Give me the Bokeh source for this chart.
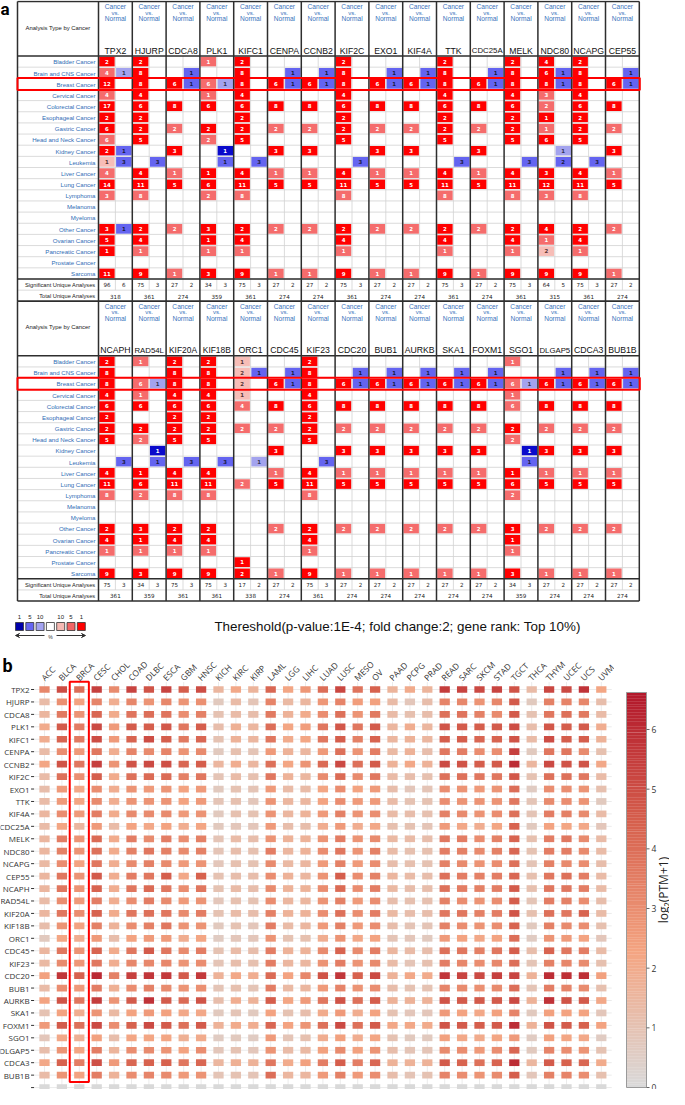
import math
from bokeh.plotting import figure
from bokeh.models import Range1d, Arrow, VeeHead
from bokeh.layouts import column, row
from bokeh.embed import file_html
from bokeh.resources import INLINE
from bokeh.core.properties import value

# ------------------------------------------------------------------ panel a data
ONC_CANCERS = ["Bladder Cancer", "Brain and CNS Cancer", "Breast Cancer", "Cervical Cancer",
               "Colorectal Cancer", "Esophageal Cancer", "Gastric Cancer", "Head and Neck Cancer",
               "Kidney Cancer", "Leukemia", "Liver Cancer", "Lung Cancer", "Lymphoma", "Melanoma",
               "Myeloma", "Other Cancer", "Ovarian Cancer", "Pancreatic Cancer", "Prostate Cancer",
               "Sarcoma"]

GENES_A1 = ["TPX2", "HJURP", "CDCA8", "PLK1", "KIFC1", "CENPA", "CCNB2", "KIF2C",
            "EXO1", "KIF4A", "TTK", "CDC25A", "MELK", "NDC80", "NCAPG", "CEP55"]
GENES_A2 = ["NCAPH", "RAD54L", "KIF20A", "KIF18B", "ORC1", "CDC45", "KIF23", "CDC20",
            "BUB1", "AURKB", "SKA1", "FOXM1", "SGO1", "DLGAP5", "CDCA3", "BUB1B"]

# count + rank class (a: top 1%, b: top 5%, c: top 10%), "." = no analysis; (up, down)
TPX2 = ("2a 4b 12a 4b 17a 2a 6a 6b 2a 1c 4b 14a 3b . . 3a 5a 1a . 11a",
        ". 1c . . . . . . 1b 3b . . . . . 1b . . . .")
HJURP = ("2a 8a 8a 4a 6a 2a 2a 5a . . 4a 11a 8b . . 2a 4a 1b . 9a",
         ". . . . . . . . . 3b . . . . . . . . . .")
CDCA8 = (". . 6a . 8a . 2b . 3a . 1b 5a . . . 2b . . . 1b",
         ". 1b 1b . . . . . . . . . . . . . . . . .")
PLK1 = ("1b . 6b 1b 6a . 2a 2b . . 1a 6a 2b . . 3a 1a 1b . 3a",
        ". . 1c . . . . . 1a 1b . . . . . . . . . .")
KIFC1 = ("2a 8a 8a 4a 6a 2a 2a 5a . . 4a 11a 8b . . 2a 4a 1b . 9a",
         ". . . . . . . . . 3b . . . . . . . . . .")
CENPA = (". . 6a . 8a . 2b . 3a . 1b 5a . . . 2b . . . 1b",
         ". 1b 1b . . . . . . . . . . . . . . . . .")
CCNB2 = (". . 6a . 8a . 2b . 3a . 1b 5a . . . 2b . . . 1b",
         ". 1b 1b . . . . . . . . . . . . . . . . .")
KIF2C = ("2a 8a 8a 4a 6a 2a 2a 5a . . 4a 11a 8b . . 2a 4a 1b . 9a",
         ". . . . . . . . . 3b . . . . . . . . . .")
EXO1 = (". . 6a . 8a . 2b . 3a . 1b 5a . . . 2b . . . 1b",
        ". 1b 1b . . . . . . . . . . . . . . . . .")
KIF4A = (". . 6a . 8a . 2b . 3a . 1b 5a . . . 2b . . . 1b",
         ". 1b 1b . . . . . . . . . . . . . . . . .")
TTK = ("2a 8a 8a 4a 6a 2a 2a 5a . . 4a 11a 8b . . 2a 4a 1b . 9a",
       ". . . . . . . . . 3b . . . . . . . . . .")
CDC25A = (". . 6a . 8a . 2b . 3a . 1b 5a . . . 2b . . . 1b",
          ". 1b 1b . . . . . . . . . . . . . . . . .")
MELK = ("2a 8a 8a 4a 6a 2a 2a 5a . . 4a 11a 8b . . 2a 4a 1b . 9a",
        ". . . . . . . . . 3b . . . . . . . . . .")
NDC80 = ("4a 6a 8a 3b 2b 1a 1b 6a . . 3a 12a 3b . . 4a 1b 2c . 9a",
         ". 1b 1b . . . . . 1c 2b . . . . . . . . . .")
NCAPG = ("2a 8a 8a 4a 6a 2a 2a 5a . . 4a 11a 8b . . 2a 4a 1b . 9a",
         ". . . . . . . . . 3b . . . . . . . . . .")
CEP55 = (". . 6a . 8a . 2b . 3a . 1b 5a . . . 2b . . . 1b",
         ". 1b 1b . . . . . . . . . . . . . . . . .")
NCAPH = ("2a 8a 8a 4a 6a 2a 2a 5a . . 4a 11a 8b . . 2a 4a 1b . 9a",
         ". . . . . . . . . 3b . . . . . . . . . .")
RAD54L = ("1b . 6b 1b 6a . 2a 2b . . 1a 6a 2b . . 3a 1a 1b . 3a",
          ". . 1c . . . . . 1a 1b . . . . . . . . . .")
KIF20A = ("2a 8a 8a 4a 6a 2a 2a 5a . . 4a 11a 8b . . 2a 4a 1b . 9a",
          ". . . . . . . . . 3b . . . . . . . . . .")
KIF18B = ("2a 8a 8a 4a 6a 2a 2a 5a . . 4a 11a 8b . . 2a 4a 1b . 9a",
          ". . . . . . . . . 3b . . . . . . . . . .")
ORC1 = ("1c 2c 2c 1c 4b . 2b . . . . 2b . . . . . . 1a 2a",
        ". 1b . . . . . . . 1c . . . . . . . . . .")
CDC45 = (". . 6a . 8a . 2b . 3a . 1b 5a . . . 2b . . . 1b",
         ". 1b 1b . . . . . . . . . . . . . . . . .")
KIF23 = ("2a 8a 8a 4a 6a 2a 2a 5a . . 4a 11a 8b . . 2a 4a 1b . 9a",
         ". . . . . . . . . 3b . . . . . . . . . .")
CDC20 = (". . 6a . 8a . 2b . 3a . 1b 5a . . . 2b . . . 1b",
         ". 1b 1b . . . . . . . . . . . . . . . . .")
BUB1 = (". . 6a . 8a . 2b . 3a . 1b 5a . . . 2b . . . 1b",
        ". 1b 1b . . . . . . . . . . . . . . . . .")
AURKB = (". . 6a . 8a . 2b . 3a . 1b 5a . . . 2b . . . 1b",
         ". 1b 1b . . . . . . . . . . . . . . . . .")
SKA1 = (". . 6a . 8a . 2b . 3a . 1b 5a . . . 2b . . . 1b",
        ". 1b 1b . . . . . . . . . . . . . . . . .")
FOXM1 = (". . 6a . 8a . 2b . 3a . 1b 5a . . . 2b . . . 1b",
         ". 1b 1b . . . . . . . . . . . . . . . . .")
SGO1 = ("1b . 6b 1b 6b . 2a 2b . . 1a 6a 2b . . 3a 1a 1b . 3a",
        ". . 1c . . . . . 1a 1b . . . . . . . . . .")
DLGAP5 = (". . 6a . 8a . 2b . 3a . 1b 5a . . . 2b . . . 1b",
          ". 1b 1b . . . . . . . . . . . . . . . . .")
CDCA3 = (". . 6a . 8a . 2b . 3a . 1b 5a . . . 2b . . . 1b",
         ". 1b 1b . . . . . . . . . . . . . . . . .")
BUB1B = (". . 6a . 8a . 2b . 3a . 1b 5a . . . 2b . . . 1b",
         ". 1b 1b . . . . . . . . . . . . . . . . .")

SIG_UP_A1 = [96, 75, 27, 34, 75, 27, 27, 75, 27, 27, 75, 27, 75, 64, 75, 27]
SIG_DN_A1 = [6, 3, 2, 3, 3, 2, 2, 3, 2, 2, 3, 2, 3, 5, 3, 2]
TOTAL_A1 = [318, 361, 274, 359, 361, 274, 274, 361, 274, 274, 361, 274, 361, 315, 361, 274]
SIG_UP_A2 = [75, 34, 75, 75, 17, 27, 75, 27, 27, 27, 27, 27, 34, 27, 27, 27]
SIG_DN_A2 = [3, 3, 3, 3, 2, 2, 3, 2, 2, 2, 2, 2, 3, 2, 2, 2]
TOTAL_A2 = [361, 359, 361, 361, 338, 274, 361, 274, 274, 274, 274, 274, 359, 274, 274, 274]

LEGEND_LABELS = ["1", "5", "10", "", "10", "5", "1"]
THRESHOLD_TEXT = "Thereshold(p-value:1E-4; fold change:2; gene rank: Top 10%)"

# ------------------------------------------------------------------ panel b data
TCGA = ["ACC", "BLCA", "BRCA", "CESC", "CHOL", "COAD", "DLBC", "ESCA", "GBM", "HNSC", "KICH",
        "KIRC", "KIRP", "LAML", "LGG", "LIHC", "LUAD", "LUSC", "MESO", "OV", "PAAD", "PCPG",
        "PRAD", "READ", "SARC", "SKCM", "STAD", "TGCT", "THCA", "THYM", "UCEC", "UCS", "UVM"]
HM_GENES = ["TPX2", "HJURP", "CDCA8", "PLK1", "KIFC1", "CENPA", "CCNB2", "KIF2C", "EXO1", "TTK",
            "KIF4A", "CDC25A", "MELK", "NDC80", "NCAPG", "CEP55", "NCAPH", "RAD54L", "KIF20A",
            "KIF18B", "ORC1", "CDC45", "KIF23", "CDC20", "BUB1", "AURKB", "SKA1", "FOXM1", "SGO1",
            "DLGAP5", "CDCA3", "BUB1B", ""]

HM_TPX2 = [3.2, 5.0, 4.0, 5.4, 3.1, 5.3, 4.8, 5.3, 4.5, 5.0, 1.5, 2.1, 1.6, 4.2, 2.2, 2.7, 4.0, 5.2, 3.8, 4.4, 1.6, 2.0, 1.6, 5.5, 5.3, 5.1, 5.3, 4.8, 1.3, 5.2, 5.1, 5.8, 2.2]
HM_HJURP = [1.3, 2.9, 2.3, 3.3, 1.9, 3.2, 2.8, 3.2, 2.8, 2.9, 0.7, 1.3, 0.9, 3.3, 1.4, 1.5, 2.7, 3.3, 2.5, 2.4, 1.3, 0.8, 1.2, 3.3, 3.2, 2.8, 3.2, 4.6, 0.7, 3.4, 3.3, 3.2, 1.2]
HM_CDCA8 = [1.5, 3.6, 2.8, 4.2, 2.0, 3.8, 4.0, 3.8, 3.0, 3.4, 1.0, 1.3, 1.2, 3.6, 1.7, 2.0, 3.0, 3.9, 2.8, 3.6, 1.3, 1.1, 1.2, 3.9, 3.8, 3.4, 3.1, 4.6, 1.0, 3.7, 3.9, 3.6, 1.3]
HM_PLK1 = [2.0, 4.6, 3.5, 5.1, 2.6, 4.6, 4.5, 4.7, 3.7, 4.5, 1.2, 1.8, 1.5, 4.0, 2.2, 2.5, 3.7, 4.7, 3.7, 4.6, 1.5, 1.9, 1.5, 4.8, 4.6, 4.5, 4.6, 5.0, 1.2, 4.7, 4.5, 4.6, 1.9]
HM_KIFC1 = [1.9, 4.3, 3.6, 5.0, 2.6, 4.3, 5.0, 4.5, 3.6, 4.2, 1.0, 1.7, 1.5, 3.7, 2.0, 2.2, 3.7, 4.5, 3.4, 4.3, 1.5, 1.7, 1.5, 4.5, 4.5, 4.2, 4.3, 4.8, 1.3, 5.0, 4.5, 4.5, 1.7]
HM_CENPA = [1.3, 3.0, 2.6, 3.7, 1.9, 3.3, 3.1, 3.3, 2.8, 3.1, 0.7, 1.1, 0.9, 2.6, 1.7, 1.5, 2.6, 3.9, 2.8, 3.5, 1.4, 1.7, 1.2, 3.7, 3.5, 3.0, 3.0, 5.4, 0.7, 3.7, 3.7, 3.1, 1.1]
HM_CCNB2 = [2.2, 4.8, 3.7, 5.4, 2.8, 4.8, 5.1, 4.9, 4.2, 4.5, 1.5, 1.9, 1.5, 3.9, 2.2, 2.8, 4.1, 5.1, 3.9, 4.6, 1.7, 2.1, 1.7, 5.1, 4.8, 4.5, 4.6, 6.0, 1.5, 5.1, 4.8, 4.8, 2.1]
HM_KIF2C = [1.3, 3.9, 2.9, 4.5, 2.0, 3.9, 4.1, 4.1, 3.4, 3.7, 0.9, 1.3, 1.1, 3.7, 1.7, 1.5, 3.1, 4.1, 3.1, 3.7, 1.3, 1.2, 1.1, 3.9, 3.9, 3.7, 3.7, 4.7, 1.0, 3.9, 3.9, 3.7, 1.3]
HM_EXO1 = [1.2, 2.6, 2.1, 3.0, 1.9, 2.8, 2.6, 2.8, 2.3, 2.6, 0.7, 1.0, 0.9, 2.6, 1.3, 1.3, 2.2, 3.0, 2.3, 2.6, 1.2, 0.8, 0.9, 3.0, 2.8, 2.6, 2.8, 4.0, 0.6, 3.0, 3.0, 2.8, 1.1]
HM_TTK = [1.3, 2.6, 2.2, 3.1, 1.9, 2.8, 2.8, 2.8, 2.3, 2.6, 0.9, 1.1, 0.8, 2.8, 1.5, 1.5, 2.3, 3.0, 2.6, 2.6, 1.3, 1.0, 1.0, 3.0, 2.8, 2.8, 2.8, 3.7, 0.9, 3.1, 3.0, 2.8, 0.7]
HM_KIF4A = [1.5, 3.0, 2.6, 3.5, 2.0, 3.1, 3.1, 3.1, 2.6, 2.8, 0.7, 1.1, 1.0, 2.8, 1.5, 1.7, 2.6, 3.4, 2.8, 3.0, 1.3, 1.2, 1.1, 3.4, 3.1, 2.8, 3.0, 3.9, 0.9, 3.5, 3.4, 3.1, 1.3]
HM_CDC25A = [1.3, 2.2, 1.5, 2.6, 1.3, 2.3, 2.1, 2.3, 1.9, 2.2, 0.7, 0.8, 0.8, 2.6, 1.2, 1.2, 1.9, 2.6, 1.9, 2.1, 1.1, 1.0, 0.9, 2.6, 2.1, 1.9, 2.2, 4.3, 0.7, 2.3, 2.2, 2.1, 0.8]
HM_MELK = [1.5, 3.5, 2.8, 4.1, 2.0, 3.5, 3.1, 3.5, 3.0, 3.4, 0.9, 1.3, 1.2, 2.8, 1.7, 1.7, 2.8, 3.5, 2.8, 3.1, 1.4, 1.3, 1.2, 3.7, 3.5, 3.0, 3.4, 4.3, 1.1, 3.5, 3.7, 3.1, 1.3]
HM_NDC80 = [1.5, 3.4, 2.8, 3.9, 2.0, 3.4, 3.7, 3.4, 3.1, 3.4, 0.9, 1.2, 1.1, 3.5, 1.5, 1.7, 3.0, 3.7, 2.8, 3.4, 1.3, 1.1, 1.1, 3.5, 3.4, 3.1, 3.4, 4.2, 1.0, 3.5, 3.5, 3.1, 1.3]
HM_NCAPG = [1.4, 3.0, 2.3, 3.7, 1.9, 3.1, 3.4, 3.1, 2.6, 2.8, 0.8, 1.1, 1.0, 3.1, 1.4, 1.5, 2.6, 3.4, 2.6, 3.0, 1.2, 1.1, 1.0, 3.4, 3.1, 2.8, 3.0, 3.9, 0.9, 3.4, 3.1, 3.0, 1.2]
HM_CEP55 = [1.5, 3.7, 2.8, 4.6, 1.9, 3.5, 3.7, 4.5, 2.1, 4.4, 1.0, 1.2, 1.2, 3.0, 1.7, 1.5, 2.8, 4.5, 3.0, 3.4, 1.5, 1.3, 1.2, 3.9, 3.5, 3.4, 3.5, 4.2, 1.1, 3.7, 3.9, 3.5, 1.3]
HM_NCAPH = [1.5, 3.7, 2.8, 4.3, 1.9, 3.7, 4.1, 3.7, 3.0, 3.7, 1.0, 1.3, 1.2, 3.1, 1.7, 1.7, 3.0, 4.1, 3.0, 3.5, 1.4, 1.2, 1.2, 3.9, 3.5, 3.4, 3.5, 4.6, 1.1, 3.7, 3.7, 3.5, 1.3]
HM_RAD54L = [1.3, 3.0, 2.6, 3.5, 1.9, 3.0, 3.5, 3.1, 2.6, 2.8, 0.8, 1.1, 1.0, 3.0, 1.5, 1.5, 2.8, 3.4, 2.6, 3.0, 1.2, 1.1, 1.1, 3.4, 3.0, 2.8, 3.0, 4.5, 0.9, 3.5, 3.4, 3.0, 1.2]
HM_KIF20A = [1.5, 3.7, 3.0, 4.4, 2.0, 3.7, 3.9, 3.7, 3.1, 3.5, 1.0, 1.3, 1.2, 3.4, 1.7, 1.7, 3.0, 3.9, 3.0, 3.5, 1.4, 1.2, 1.2, 3.7, 3.7, 3.4, 3.5, 4.8, 1.1, 3.9, 3.7, 4.3, 1.3]
HM_KIF18B = [1.2, 2.8, 2.3, 3.4, 1.7, 3.0, 3.4, 3.7, 2.8, 2.8, 0.7, 1.0, 0.8, 3.5, 1.3, 1.5, 2.6, 3.4, 2.6, 3.0, 1.2, 0.9, 0.9, 3.4, 3.0, 2.8, 3.0, 4.3, 0.7, 3.4, 3.1, 3.0, 1.1]
HM_ORC1 = [0.7, 2.2, 1.9, 2.6, 1.2, 2.3, 2.6, 2.6, 1.9, 2.2, 0.6, 0.8, 0.8, 2.8, 1.0, 1.1, 1.9, 2.8, 2.1, 2.3, 0.9, 0.8, 0.7, 2.6, 2.3, 2.1, 2.3, 4.0, 0.6, 2.8, 2.6, 2.3, 0.8]
HM_CDC45 = [1.5, 3.7, 2.8, 4.3, 2.0, 3.7, 4.6, 3.7, 3.1, 3.5, 1.0, 1.3, 1.2, 3.5, 1.7, 1.7, 3.1, 4.3, 3.1, 3.5, 1.5, 1.3, 1.2, 3.9, 3.7, 3.4, 3.7, 4.5, 1.2, 4.3, 3.7, 3.5, 1.3]
HM_KIF23 = [1.4, 3.1, 2.7, 3.7, 1.9, 3.2, 3.2, 3.2, 2.8, 3.0, 0.9, 1.2, 1.1, 3.5, 1.5, 1.5, 2.8, 3.5, 2.8, 3.1, 1.3, 0.9, 1.1, 3.5, 3.2, 3.0, 3.2, 4.0, 0.9, 3.4, 3.2, 3.1, 1.1]
HM_CDC20 = [2.4, 5.7, 4.4, 6.1, 3.4, 5.4, 5.7, 5.6, 4.6, 5.6, 1.7, 2.1, 1.9, 4.1, 2.3, 3.2, 4.8, 5.7, 4.4, 5.1, 1.7, 2.1, 2.0, 5.7, 5.3, 5.1, 5.4, 5.3, 1.7, 6.0, 5.9, 5.9, 2.4]
HM_BUB1 = [1.3, 3.0, 2.6, 3.5, 1.8, 3.0, 3.4, 3.1, 2.8, 2.9, 0.9, 1.1, 0.9, 3.5, 1.4, 1.5, 2.6, 3.3, 2.8, 3.0, 1.2, 1.0, 1.0, 3.3, 3.1, 2.9, 3.1, 4.0, 0.9, 3.5, 3.3, 3.1, 1.1]
HM_AURKB = [2.3, 4.8, 3.7, 5.5, 2.8, 4.6, 5.8, 4.6, 4.1, 4.8, 1.2, 1.9, 1.7, 4.5, 2.2, 2.6, 3.7, 4.8, 3.9, 4.5, 1.7, 1.7, 1.7, 4.8, 4.6, 4.6, 4.6, 5.1, 1.7, 5.8, 4.8, 4.6, 2.1]
HM_SKA1 = [1.0, 2.3, 1.9, 2.8, 1.4, 2.3, 2.6, 2.4, 2.1, 2.1, 0.7, 0.9, 0.7, 2.3, 1.0, 1.2, 2.0, 2.6, 1.9, 2.3, 1.0, 0.8, 0.8, 2.6, 2.3, 2.1, 2.4, 3.3, 0.7, 2.4, 2.3, 2.3, 0.8]
HM_FOXM1 = [2.6, 4.6, 3.9, 5.1, 3.0, 4.4, 5.1, 4.6, 3.9, 4.6, 1.7, 2.0, 1.9, 4.2, 2.3, 2.8, 3.9, 5.1, 3.9, 4.6, 2.1, 2.1, 2.0, 4.8, 4.6, 4.5, 4.6, 6.0, 1.7, 4.8, 4.6, 4.4, 2.3]
HM_SGO1 = [0.8, 2.1, 1.8, 2.4, 1.2, 2.2, 2.2, 2.2, 1.8, 2.0, 0.6, 0.7, 0.6, 2.6, 0.9, 1.1, 1.9, 2.4, 1.9, 2.2, 1.0, 0.7, 0.7, 2.4, 2.1, 2.0, 2.2, 2.6, 0.6, 2.4, 2.2, 2.1, 0.6]
HM_DLGAP5 = [1.2, 2.8, 2.2, 3.5, 1.6, 3.0, 3.1, 2.8, 2.3, 3.0, 0.8, 1.0, 0.8, 2.8, 1.3, 1.4, 2.4, 3.1, 2.4, 2.8, 1.2, 0.9, 0.9, 3.1, 3.0, 2.6, 3.0, 4.2, 0.7, 3.3, 3.0, 2.8, 1.0]
HM_CDCA3 = [2.1, 4.4, 3.5, 4.9, 2.6, 4.2, 4.4, 4.4, 3.7, 4.2, 1.5, 1.8, 1.7, 3.7, 2.0, 2.4, 3.5, 4.5, 3.5, 4.2, 1.7, 1.7, 1.7, 4.6, 4.3, 3.9, 4.3, 6.0, 1.5, 4.6, 4.4, 4.2, 2.0]
HM_BUB1B = [1.3, 2.8, 2.3, 3.5, 1.7, 3.0, 3.3, 3.1, 2.6, 2.8, 0.9, 1.0, 0.9, 4.0, 1.5, 1.5, 2.6, 3.4, 2.6, 3.0, 1.2, 0.9, 1.0, 3.3, 3.0, 2.8, 3.1, 4.5, 0.8, 3.4, 3.3, 3.0, 1.1]
HM_BLANK = [0.0] * 33

CB_TICKS = [0, 1, 2, 3, 4, 5, 6]
CB_MAX = 6.62
CB_TITLE = "log\u2082(PTM+1)"

# ------------------------------------------------------------------ lookups built from the data
ONCOMINE = {"TPX2": TPX2, "HJURP": HJURP, "CDCA8": CDCA8, "PLK1": PLK1, "KIFC1": KIFC1,
            "CENPA": CENPA, "CCNB2": CCNB2, "KIF2C": KIF2C, "EXO1": EXO1, "KIF4A": KIF4A,
            "TTK": TTK, "CDC25A": CDC25A, "MELK": MELK, "NDC80": NDC80, "NCAPG": NCAPG,
            "CEP55": CEP55, "NCAPH": NCAPH, "RAD54L": RAD54L, "KIF20A": KIF20A,
            "KIF18B": KIF18B, "ORC1": ORC1, "CDC45": CDC45, "KIF23": KIF23, "CDC20": CDC20,
            "BUB1": BUB1, "AURKB": AURKB, "SKA1": SKA1, "FOXM1": FOXM1, "SGO1": SGO1,
            "DLGAP5": DLGAP5, "CDCA3": CDCA3, "BUB1B": BUB1B}
HEAT = [HM_TPX2, HM_HJURP, HM_CDCA8, HM_PLK1, HM_KIFC1, HM_CENPA, HM_CCNB2, HM_KIF2C, HM_EXO1,
        HM_TTK, HM_KIF4A, HM_CDC25A, HM_MELK, HM_NDC80, HM_NCAPG, HM_CEP55, HM_NCAPH,
        HM_RAD54L, HM_KIF20A, HM_KIF18B, HM_ORC1, HM_CDC45, HM_KIF23, HM_CDC20, HM_BUB1,
        HM_AURKB, HM_SKA1, HM_FOXM1, HM_SGO1, HM_DLGAP5, HM_CDCA3, HM_BUB1B, HM_BLANK]

SANS = value("Liberation Sans")
SMALL = value("DejaVu Sans")
OPEN = value("Open Sans")
BOLD = value("Roboto")

UP_COL = {"a": "#FF0000", "b": "#F56C6C", "c": "#F7BDB7"}
DN_COL = {"a": "#0A0ACB", "b": "#6464F0", "c": "#A3A3EE"}
UP_TXT = {"a": "#FFFFFF", "b": "#FFFFFF", "c": "#553333"}
DN_TXT = {"a": "#FFFFFF", "b": "#1A1A40", "c": "#333355"}


def parse(s):
    return [None if tok == "." else (int(tok[:-1]), tok[-1]) for tok in s.split()]


def interp_palette(stops, n=256):
    def h2r(h):
        return tuple(int(h[i:i + 2], 16) for i in (1, 3, 5))
    pal = []
    for k in range(n):
        t = k / (n - 1)
        for (t0, c0), (t1, c1) in zip(stops[:-1], stops[1:]):
            if t0 <= t <= t1:
                f = (t - t0) / (t1 - t0)
                a, bb = h2r(c0), h2r(c1)
                pal.append("#%02x%02x%02x" % tuple(int(round(a[m] + (bb[m] - a[m]) * f)) for m in range(3)))
                break
    return pal


PALETTE = interp_palette([(0.0, "#D9D9D9"), (0.34, "#F4A582"), (0.67, "#D6604D"), (1.0, "#B2182B")])


def vcolor(v):
    k = int(round(max(0.0, min(v, CB_MAX)) / CB_MAX * (len(PALETTE) - 1)))
    return PALETTE[k]


# ------------------------------------------------------------------ panel a (y data = page pixels)
W = 669
HA = 648
pA = figure(width=W, height=HA, x_range=Range1d(8, 8 + W), y_range=Range1d(8 + HA, 8),
            output_backend="svg", toolbar_location=None, min_border=0,
            x_axis_location=None, y_axis_location=None)
pA.grid.visible = False
pA.outline_line_color = None

TX0, LCX, COLW = 25.0, 106.0, 33.8
HDR, ROWH = 54.5, 11.15
BLOCK_H = HDR + 22 * ROWH
TRIGHT = LCX + 16 * COLW
TOP0 = 9.0

blocks = [(GENES_A1, SIG_UP_A1, SIG_DN_A1, TOTAL_A1), (GENES_A2, SIG_UP_A2, SIG_DN_A2, TOTAL_A2)]

cx, cy, cc = [], [], []
nx, ny, ns, nc = [], [], [], []
thin = {"x0": [], "y0": [], "x1": [], "y1": []}
thick = {"x0": [], "y0": [], "x1": [], "y1": []}


def seg(d, x0, y0, x1, y1):
    d["x0"].append(x0); d["y0"].append(y0); d["x1"].append(x1); d["y1"].append(y1)


def gene_font(g):
    if g in ("CDC25A", "DLGAP5", "RAD54L"):
        return "7.8px"
    if len(g) > 5:
        return "8.4px"
    return "8.7px"


for b, (genes, sup, sdn, tot) in enumerate(blocks):
    top = TOP0 + b * BLOCK_H
    bt = top + HDR
    bottom = top + BLOCK_H
    for i in range(1, 22):
        seg(thin, TX0, bt + i * ROWH, TRIGHT, bt + i * ROWH)
    for j in range(16):
        xm = LCX + (j + 0.5) * COLW
        seg(thin, xm, bt, xm, bt + 21 * ROWH)
    for j in range(17):
        seg(thick, LCX + j * COLW, top, LCX + j * COLW, bottom)
    seg(thick, TX0, top, TX0, bottom)
    for yy in (top, bt, bt + 20 * ROWH, bottom):
        seg(thick, TX0, yy, TRIGHT, yy)
    for j, g in enumerate(genes):
        up, dn = ONCOMINE[g]
        for k, cells in enumerate((parse(up), parse(dn))):
            for i, cell in enumerate(cells):
                if cell is None:
                    continue
                n, sh = cell
                x = LCX + j * COLW + (k + 0.5) * COLW / 2
                y = bt + (i + 0.5) * ROWH
                cx.append(x); cy.append(y)
                cc.append(UP_COL[sh] if k == 0 else DN_COL[sh])
                nx.append(x); ny.append(y + 0.3); ns.append(str(n))
                nc.append(UP_TXT[sh] if k == 0 else DN_TXT[sh])
    gx = [LCX + (j + 0.5) * COLW for j in range(16)]
    for yy, word, fs in ((top + 5, "Cancer", "6.6px"), (top + 11, "vs.", "6px"), (top + 17, "Normal", "6.6px")):
        pA.text(x=gx, y=[yy] * 16, text=[word] * 16, text_font=SANS, text_font_size=fs,
                text_color="#3B74BC", text_align="center", text_baseline="middle")
    for j, g in enumerate(genes):
        pA.text(x=[gx[j]], y=[top + 49], text=[g], text_font=SANS, text_font_size=gene_font(g),
                text_color="#111111", text_align="center", text_baseline="middle")
    pA.text(x=[(TX0 + LCX) / 2], y=[top + 26], text=["Analysis Type by Cancer"], text_font=SANS,
            text_font_size="5.9px", text_color="#222222", text_align="center", text_baseline="middle")
    pA.text(x=[LCX - 3] * 20, y=[bt + (i + 0.5) * ROWH + 0.3 for i in range(20)], text=ONC_CANCERS,
            text_font=SANS, text_font_size="6.1px", text_color="#2F6DB5", text_align="right",
            text_baseline="middle")
    pA.text(x=[LCX - 3] * 2, y=[bt + 20.5 * ROWH + 0.3, bt + 21.5 * ROWH + 0.3],
            text=["Significant Unique Analyses", "Total Unique Analyses"], text_font=SANS,
            text_font_size="5.7px", text_color="#222222", text_align="right", text_baseline="middle")
    sx, st = [], []
    for j in range(16):
        sx += [LCX + j * COLW + 0.25 * COLW, LCX + j * COLW + 0.75 * COLW]
        st += [str(sup[j]), str(sdn[j])]
    pA.text(x=sx, y=[bt + 20.5 * ROWH + 0.3] * 32, text=st, text_font=SMALL, text_font_size="5.6px",
            text_color="#222222", text_align="center", text_baseline="middle")
    pA.text(x=gx, y=[bt + 21.5 * ROWH + 0.3] * 16, text=[str(t) for t in tot], text_font=SMALL,
            text_font_size="5.6px", text_color="#222222", text_align="center", text_baseline="middle")

pA.rect(x=cx, y=cy, width=COLW / 2 - 1.4, height=ROWH - 1.5, fill_color=cc, line_color=None)
pA.segment(x0=thin["x0"], y0=thin["y0"], x1=thin["x1"], y1=thin["y1"], line_color="#D2D2D2", line_width=0.8)
pA.segment(x0=thick["x0"], y0=thick["y0"], x1=thick["x1"], y1=thick["y1"], line_color="#2E2E2E", line_width=1.5)
pA.text(x=nx, y=ny, text=ns, text_font=SMALL, text_font_style="bold", text_font_size="5.4px",
        text_color=nc, text_align="center", text_baseline="middle")

for b in range(2):
    bt = TOP0 + b * BLOCK_H + HDR
    pA.quad(left=[TX0], right=[TRIGHT + 0.5], top=[bt + 2 * ROWH - 0.4], bottom=[bt + 3 * ROWH + 0.6],
            fill_color=None, line_color="#FF0000", line_width=2)

pA.text(x=[8], y=[16], text=["a"], text_font=BOLD, text_font_style="bold", text_font_size="17px",
        text_color="#000000", text_align="left", text_baseline="middle")

LEG_COLS = ["#0000AA", "#6666F2", "#A3A3F0", "#FFFFFF", "#F6B9B3", "#F26464", "#FF0000"]
lx = [27 + 10.3 * i for i in range(7)]
pA.rect(x=lx, y=[634] * 7, width=8, height=8, fill_color=LEG_COLS, line_color="#333333", line_width=0.8)
pA.text(x=lx, y=[624] * 7, text=LEGEND_LABELS, text_font=SANS, text_font_size="6px",
        text_color="#222222", text_align="center", text_baseline="middle")
pA.add_layout(Arrow(end=VeeHead(size=4, line_color="#333333", line_width=1), x_start=52, y_start=643,
                    x_end=23, y_end=643, line_color="#333333", line_width=1))
pA.add_layout(Arrow(end=VeeHead(size=4, line_color="#333333", line_width=1), x_start=64, y_start=643,
                    x_end=93, y_end=643, line_color="#333333", line_width=1))
pA.text(x=[58], y=[644.5], text=["%"], text_font=SANS, text_font_size="5px", text_color="#333333",
        text_align="center", text_baseline="middle")
pA.text(x=[405], y=[633.5], text=[THRESHOLD_TEXT], text_font=SANS, text_font_size="13.4px",
        text_color="#111111", text_align="center", text_baseline="middle")

# ------------------------------------------------------------------ panel b (heatmap)
HB = 441
WB = 614
C0, CS = 52.0, 17.4     # page x of first column centre, column spacing
R0, RS = 697.0, 12.44   # page y of first row centre, row spacing
TOPB = 656.0
xr = Range1d((8 - C0) / CS, (8 + WB - C0) / CS)
yr = Range1d((TOPB + HB - R0) / RS, (TOPB - R0) / RS)
pB = figure(width=WB, height=HB, x_range=xr, y_range=yr, output_backend="svg",
            toolbar_location=None, min_border=0, x_axis_location=None, y_axis_location=None)
pB.grid.visible = False
pB.outline_line_color = None

nC, nR = len(TCGA), len(HM_GENES)
pB.segment(x0=[-0.6] * nR, x1=[nC - 1 + 0.6] * nR, y0=list(range(nR)), y1=list(range(nR)),
           line_color="#EBEBEB", line_width=1)
pB.segment(x0=list(range(nC)), x1=list(range(nC)), y0=[-0.6] * nC, y1=[nR - 1 + 0.6] * nC,
           line_color="#EBEBEB", line_width=1)

hx, hy, hc = [], [], []
for gi in range(nR):
    for ci in range(nC):
        hx.append(ci); hy.append(gi); hc.append(vcolor(HEAT[gi][ci]))
pB.rect(x=hx, y=hy, width=0.59, height=0.54, fill_color=hc, line_color=None)

bi = TCGA.index("BRCA")
pB.quad(left=[bi - 0.55], right=[bi + 0.55], top=[-0.62], bottom=[nR - 2 + 0.55], fill_color=None,
        line_color="#FF0000", line_width=2)

tick_l = -0.6 - 3.0 / CS
pB.segment(x0=[tick_l] * nR, x1=[-0.6] * nR, y0=list(range(nR)), y1=list(range(nR)),
           line_color="#333333", line_width=1)
pB.text(x=[tick_l - 1.5 / CS] * nR, y=list(range(nR)), text=HM_GENES, text_font=OPEN,
        text_font_size="8px", text_color="#333333", text_align="right", text_baseline="middle")
pB.text(x=[c - 0.12 for c in range(nC)], y=[-0.85] * nC, text=TCGA, angle=math.pi / 4,
        text_font=OPEN, text_font_size="8.4px", text_color="#333333", text_align="left",
        text_baseline="middle")
pB.text(x=[(10 - C0) / CS], y=[(673 - R0) / RS], text=["b"], text_font=BOLD, text_font_style="bold",
        text_font_size="18px", text_color="#000000", text_align="left", text_baseline="middle")

# ------------------------------------------------------------------ colour bar
WC = W - WB
PXV = 395.0 / CB_MAX
BAR_BOTTOM = 1095.0
pC = figure(width=WC, height=HB, x_range=Range1d(8 + WB, 8 + W),
            y_range=Range1d(-(TOPB + HB - BAR_BOTTOM) / PXV, (BAR_BOTTOM - TOPB) / PXV),
            output_backend="svg", toolbar_location=None, min_border=0,
            x_axis_location=None, y_axis_location=None)
pC.grid.visible = False
pC.outline_line_color = None
nP = len(PALETTE)
pC.quad(left=[634] * nP, right=[654] * nP, bottom=[CB_MAX * k / nP for k in range(nP)],
        top=[CB_MAX * (k + 1) / nP + 0.004 for k in range(nP)], fill_color=PALETTE, line_color=None)
pC.quad(left=[634], right=[654], bottom=[0], top=[CB_MAX], fill_color=None, line_color="#9A9A9A",
        line_width=1)
pC.segment(x0=[654] * len(CB_TICKS), x1=[657] * len(CB_TICKS), y0=CB_TICKS, y1=CB_TICKS,
           line_color="#666666", line_width=1)
pC.text(x=[659] * len(CB_TICKS), y=CB_TICKS, text=[str(t) for t in CB_TICKS], text_font=OPEN,
        text_font_size="8.5px", text_color="#333333", text_align="left", text_baseline="middle")
pC.text(x=[671], y=[CB_MAX / 2], text=[CB_TITLE], angle=math.pi / 2, text_font=OPEN,
        text_font_size="12px", text_color="#222222", text_align="center", text_baseline="middle")

layout = column(pA, row(pB, pC))
open("out.html", "w").write(file_html(layout, INLINE))
